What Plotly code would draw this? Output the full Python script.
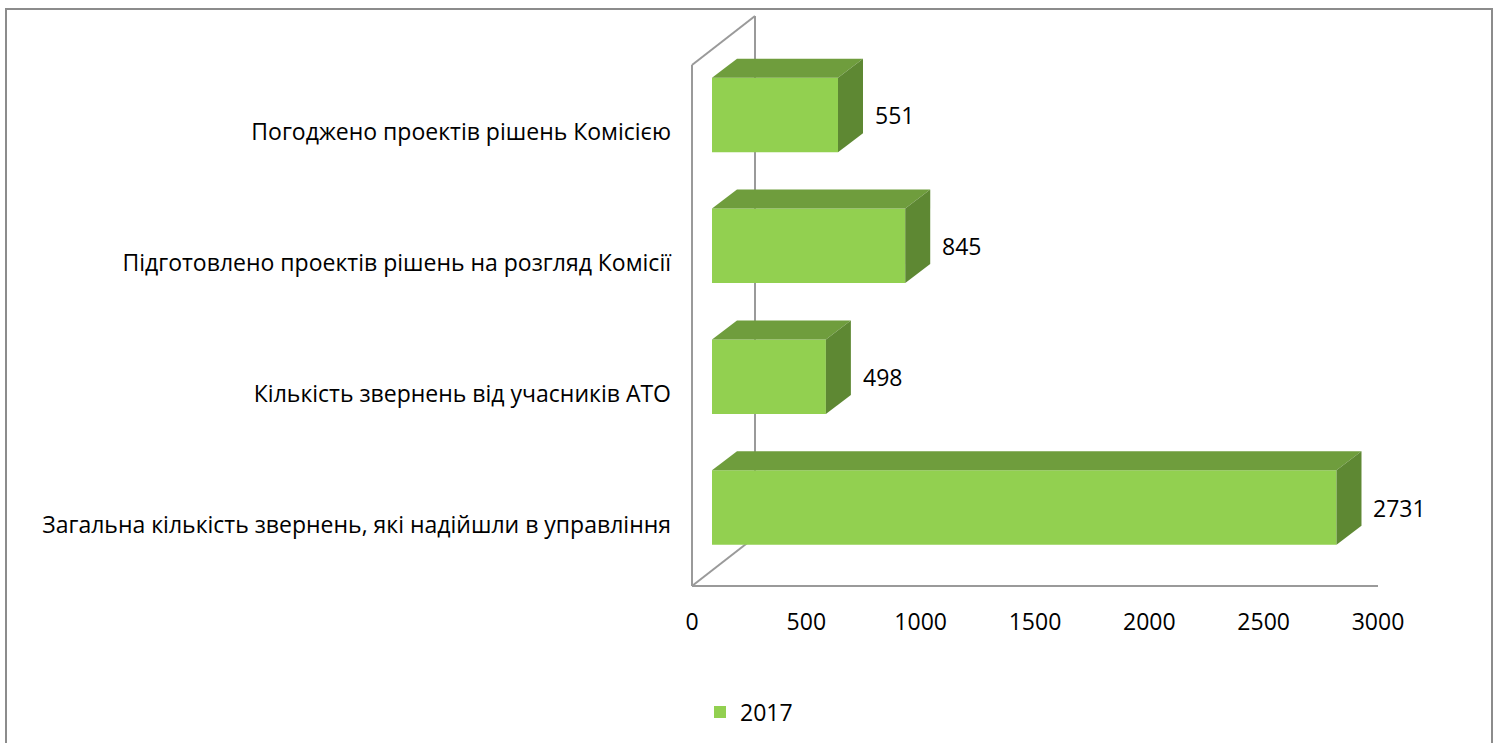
import plotly.graph_objects as go

# ---- data ----
categories = [
    "Загальна кількість звернень, які надійшли в управління",
    "Кількість звернень від учасників АТО",
    "Підготовлено проектів рішень на розгляд Комісії",
    "Погоджено проектів рішень Комісією",
]
values_2017 = [2731, 498, 845, 551]
series_name = "2017"
x_ticks = [0, 500, 1000, 1500, 2000, 2500, 3000]

# ---- layout constants (pixels) ----
W, H = 1499, 743
FONT = "Open Sans, DejaVu Sans, sans-serif"
FS = 23
FRONT_COLOR = "#92D050"
TOP_COLOR = "#6F9D3D"
SIDE_COLOR = "#5E8833"
WALL_COLOR = "#9A9A9A"

X0_PX, X1_PX = 692, 1378          # front floor: value 0 .. 3000
FLOOR_PX = 586
BAR_X0_PX = 712                   # bar front face origin
DEPTH_DX, DEPTH_DY = 25, 19       # bar depth in px
WALL_DX, WALL_DY = 63, 49         # wall depth in px
WALL_TOP_PX = 65
CAT_TOP_PX, CAT_BOT_PX = 115, 507.5
LABEL_SHIFT = 17
BAR_W = 0.57

xmax = x_ticks[-1]
px_per_unit = (X1_PX - X0_PX) / xmax
n = len(categories)
step_px = (CAT_BOT_PX - CAT_TOP_PX) / (n - 1)
y_top_px = CAT_TOP_PX - step_px / 2
y_bot_px = CAT_BOT_PX + step_px / 2


def px(x):
    return x / W


def py(y):
    return (H - y) / H


idx = list(range(n))

fig = go.Figure()
# invisible copy on the front (label) axes so that they get drawn
fig.add_trace(go.Bar(
    x=values_2017, y=idx, orientation="h", width=BAR_W,
    marker=dict(color="rgba(0,0,0,0)", line=dict(width=0)),
    xaxis="x", yaxis="y", showlegend=False, hoverinfo="skip",
))
fig.add_trace(go.Bar(
    x=values_2017, y=idx, orientation="h", width=BAR_W,
    marker=dict(color=FRONT_COLOR, line=dict(width=0)),
    name=series_name, xaxis="x2", yaxis="y2", showlegend=True,
    hoverinfo="x",
))

dxu = DEPTH_DX / px_per_unit
dyu = DEPTH_DY / step_px
shapes = []
annotations = []
for i, v in zip(idx, values_2017):
    t = i + BAR_W / 2
    b = i - BAR_W / 2
    top = f"M 0,{t} L {v},{t} L {v+dxu},{t+dyu} L {dxu},{t+dyu} Z"
    side = f"M {v},{b} L {v},{t} L {v+dxu},{t+dyu} L {v+dxu},{b+dyu} Z"
    shapes.append(dict(type="path", path=top, xref="x2", yref="y2",
                       fillcolor=TOP_COLOR, line=dict(width=0), layer="above"))
    shapes.append(dict(type="path", path=side, xref="x2", yref="y2",
                       fillcolor=SIDE_COLOR, line=dict(width=0), layer="above"))
    annotations.append(dict(x=v, y=i, xref="x2", yref="y2", text=str(v),
                            showarrow=False, xanchor="left", yanchor="middle",
                            xshift=DEPTH_DX + 10,
                            font=dict(family=FONT, size=FS, color="black")))

# walls / floor (axis decoration)
wl = dict(color=WALL_COLOR, width=2)
for (xa, ya, xb, yb) in [
    (X0_PX, WALL_TOP_PX, X0_PX, FLOOR_PX),
    (X0_PX, FLOOR_PX, X1_PX, FLOOR_PX),
    (X0_PX, WALL_TOP_PX, X0_PX + WALL_DX, WALL_TOP_PX - WALL_DY),
    (X0_PX, FLOOR_PX, X0_PX + WALL_DX, FLOOR_PX - WALL_DY),
    (X0_PX + WALL_DX, WALL_TOP_PX - WALL_DY, X0_PX + WALL_DX, FLOOR_PX - WALL_DY),
]:
    shapes.append(dict(type="line", xref="paper", yref="paper",
                       x0=px(xa), y0=py(ya), x1=px(xb), y1=py(yb),
                       line=wl, layer="below"))
# chart frame
shapes.append(dict(type="rect", xref="paper", yref="paper",
                   x0=px(6), y0=py(760), x1=px(1492), y1=py(9),
                   line=dict(color="#8C8C8C", width=2), layer="below"))

lab_bot_px = y_bot_px + LABEL_SHIFT

fig.update_layout(
    width=W, height=H, autosize=False,
    margin=dict(l=0, r=0, t=0, b=0, autoexpand=False),
    paper_bgcolor="white", plot_bgcolor="rgba(0,0,0,0)",
    font=dict(family=FONT, size=FS, color="black"),
    xaxis=dict(domain=[px(X0_PX), px(X1_PX)], range=[0, xmax],
               tickvals=x_ticks, ticktext=[str(t) for t in x_ticks],
               showgrid=False, zeroline=False, showline=False, ticks="",
               anchor="y", ticklabelstandoff=int(20 - (lab_bot_px - FLOOR_PX)),
               automargin=False, fixedrange=True),
    yaxis=dict(domain=[py(lab_bot_px), py(y_top_px + LABEL_SHIFT)],
               range=[-0.5, n - 0.5], tickvals=idx, ticktext=categories,
               showgrid=False, zeroline=False, showline=False, ticks="",
               anchor="x", ticklabelstandoff=20,
               automargin=False, fixedrange=True),
    xaxis2=dict(domain=[px(BAR_X0_PX), px(BAR_X0_PX + X1_PX - X0_PX)],
                range=[0, xmax], anchor="y2", automargin=False,
                visible=False, fixedrange=True),
    yaxis2=dict(domain=[py(y_bot_px), py(y_top_px)], range=[-0.5, n - 0.5],
                anchor="x2", automargin=False, visible=False, fixedrange=True),
    shapes=shapes,
    annotations=annotations,
    showlegend=True,
    legend=dict(orientation="h", x=px(700), y=py(712), xanchor="left",
                yanchor="middle", font=dict(family=FONT, size=FS),
                bgcolor="rgba(0,0,0,0)"),
)

fig.write_html(
    "out.html",
    config={"displayModeBar": False, "responsive": False},
    post_script=("document.documentElement.style.overflow='hidden';"
                 "document.body.style.overflow='hidden';"
                 "document.body.style.margin='0';"),
)
